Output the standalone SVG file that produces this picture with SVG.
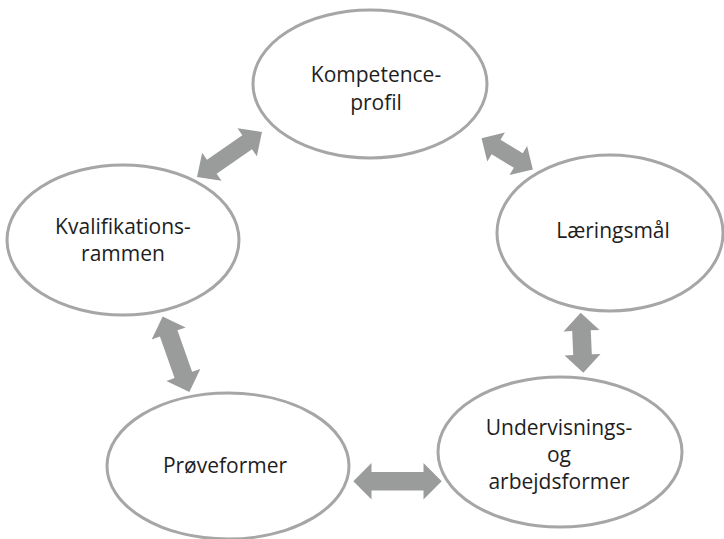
<svg xmlns="http://www.w3.org/2000/svg" width="724" height="539" viewBox="0 0 724 539">
<defs>
<style>
.node ellipse { fill: #ffffff; stroke: #a6a6a6; stroke-width: 3; }
.node text { font-family: "Open Sans", "Liberation Sans", sans-serif; font-size: 21px; fill: #1e1e1e; text-anchor: middle; }
.arrow { fill: #9a9b9b; stroke: none; }
</style>
</defs>
<rect width="724" height="539" fill="#ffffff"/>
<g id="connectors">
<polygon class="arrow" transform="translate(229.5,154.5) rotate(-34.7)" points="-39.5,0 -21.5,-17 -21.5,-8.5 21.5,-8.5 21.5,-17 39.5,0 21.5,17 21.5,8.5 -21.5,8.5 -21.5,17"/>
<polygon class="arrow" transform="translate(507.2,153.8) rotate(31.3)" points="-30,0 -13,-17 -13,-8.5 13,-8.5 13,-17 30,0 13,17 13,8.5 -13,8.5 -13,17"/>
<polygon class="arrow" transform="translate(582,342.7) rotate(87.5)" points="-30,0 -12,-18 -12,-9.3 12,-9.3 12,-18 30,0 12,18 12,9.3 -12,9.3 -12,18"/>
<polygon class="arrow" transform="translate(176,354.2) rotate(70.5)" points="-40,0 -22,-18 -22,-9.3 22,-9.3 22,-18 40,0 22,18 22,9.3 -22,9.3 -22,18"/>
<polygon class="arrow" transform="translate(397.5,481.3)" points="-44.2,0 -26,-18.3 -26,-9.3 26,-9.3 26,-18.3 44.2,0 26,18.3 26,9.3 -26,9.3 -26,18.3"/>
</g>
<g id="kompetenceprofil" class="node">
<ellipse cx="370" cy="84" rx="117" ry="74"/>
<text x="376" y="82">Kompetence-</text>
<text x="376" y="110">profil</text>
</g>
<g id="kvalifikationsrammen" class="node">
<ellipse cx="123" cy="240" rx="116" ry="75"/>
<text x="123" y="234">Kvalifikations-</text>
<text x="123" y="261">rammen</text>
</g>
<g id="laeringsmaal" class="node">
<ellipse cx="610" cy="233" rx="113" ry="78"/>
<text x="613" y="238">Læringsmål</text>
</g>
<g id="proeveformer" class="node">
<ellipse cx="228" cy="466" rx="121" ry="73"/>
<text x="225" y="473">Prøveformer</text>
</g>
<g id="undervisningsformer" class="node">
<ellipse cx="560" cy="452" rx="122" ry="75"/>
<text x="559" y="435">Undervisnings-</text>
<text x="559" y="462">og</text>
<text x="559" y="489">arbejdsformer</text>
</g>
</svg>
